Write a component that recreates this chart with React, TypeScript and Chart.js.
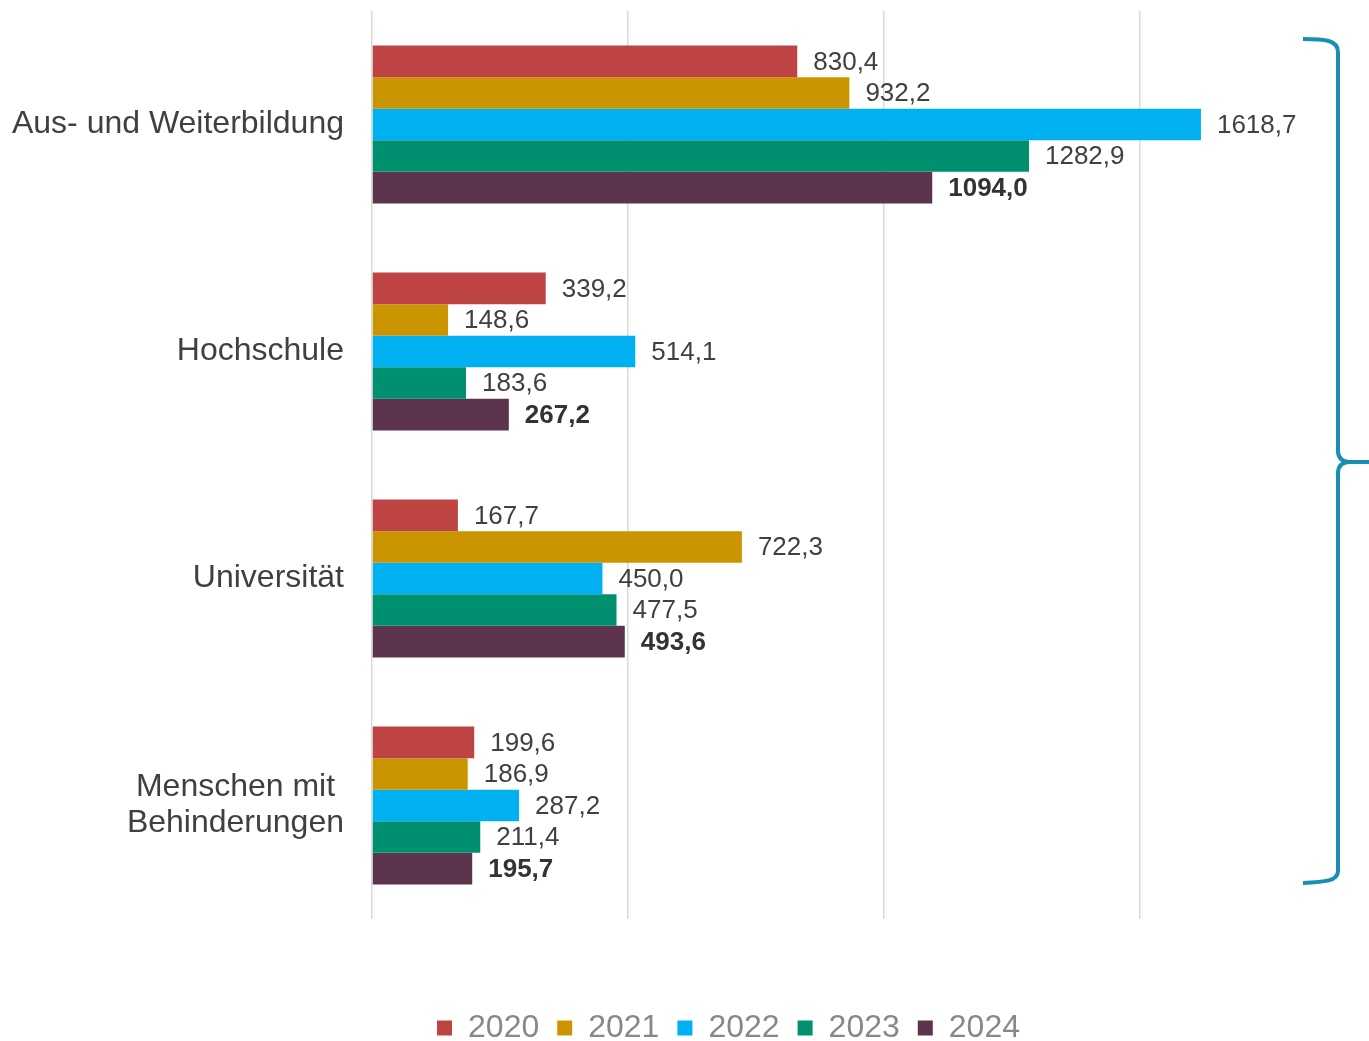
import React, { useEffect, useRef } from "react";
import { Chart, registerables } from "chart.js";

Chart.register(...registerables);

const categories: (string | string[])[] = [
  "Aus- und Weiterbildung",
  "Hochschule",
  "Universität",
  ["Menschen mit ", "Behinderungen"],
];
const seriesNames = ["2020", "2021", "2022", "2023", "2024"];
const values2020 = [830.4, 339.2, 167.7, 199.6];
const values2021 = [932.2, 148.6, 722.3, 186.9];
const values2022 = [1618.7, 514.1, 450.0, 287.2];
const values2023 = [1282.9, 183.6, 477.5, 211.4];
const values2024 = [1094.0, 267.2, 493.6, 195.7];
const seriesValues = [values2020, values2021, values2022, values2023, values2024];
const seriesColors = ["#BE4444", "#CA9500", "#00B0F0", "#008F6F", "#5C344D"];
const gridValues = [0, 500, 1000, 1500];
const boldSeriesIndex = 4;

const FONT = '"Liberation Sans", Arial, sans-serif';

const fmt = (v: number) => v.toFixed(1).replace(".", ",");

const valueLabels = {
  id: "valueLabels",
  afterDatasetsDraw(chart: any) {
    const ctx = chart.ctx;
    chart.data.datasets.forEach((ds: any, di: number) => {
      const meta = chart.getDatasetMeta(di);
      meta.data.forEach((bar: any, i: number) => {
        const v = ds.data[i] as number;
        ctx.save();
        const bold = di === boldSeriesIndex;
        ctx.font = `${bold ? "bold " : ""}26px ${FONT}`;
        ctx.fillStyle = bold ? "#333333" : "#404040";
        ctx.textAlign = "left";
        ctx.textBaseline = "middle";
        ctx.fillText(fmt(v), bar.x + 16, bar.y + 1);
        ctx.restore();
      });
    });
  },
};

// let the category labels extend left of the (narrow) axis box without clipping
const unclipY = {
  id: "unclipY",
  afterLayout(chart: any) {
    const y = chart.scales.y;
    if (y) y.left = 0;
  },
};

const bracket = {
  id: "bracket",
  afterDraw(chart: any) {
    const ctx = chart.ctx;
    const W = chart.width;
    const a = chart.chartArea;
    const x = W - 31;
    const left = W - 66;
    const top = a.top + 27;
    const bottom = a.bottom - 36;
    const mid = 462;
    ctx.save();
    ctx.strokeStyle = "#1A8DB3";
    ctx.lineWidth = 4;
    ctx.lineCap = "butt";
    ctx.beginPath();
    ctx.moveTo(left, top + 1);
    ctx.bezierCurveTo(left + 22, top + 1, x, top + 2, x, top + 14);
    ctx.lineTo(x, mid - 10);
    ctx.quadraticCurveTo(x + 1, mid, x + 12, mid);
    ctx.lineTo(W, mid);
    ctx.moveTo(x + 12, mid);
    ctx.quadraticCurveTo(x + 1, mid, x, mid + 10);
    ctx.lineTo(x, bottom - 12);
    ctx.bezierCurveTo(x, bottom - 2, left + 22, bottom - 1, left, bottom);
    ctx.stroke();
    ctx.restore();
  },
};

export default function App() {
  const ref = useRef<HTMLCanvasElement | null>(null);

  useEffect(() => {
    document.body.style.margin = "0";
    if (!ref.current) return;
    const chart = new Chart(ref.current, {
      type: "bar",
      data: {
        labels: categories as any,
        datasets: seriesNames.map((name, i) => ({
          label: name,
          data: seriesValues[i],
          backgroundColor: seriesColors[i],
          borderWidth: 0,
          categoryPercentage: 0.695,
          barPercentage: 1.0,
        })),
      },
      options: {
        indexAxis: "y",
        responsive: false,
        animation: false,
        devicePixelRatio: 1,
        layout: { padding: { top: 11, bottom: 0, left: 112, right: 24 } },
        scales: {
          x: {
            min: 0,
            max: 1900,
            ticks: { display: false },
            afterBuildTicks: (s: any) => {
              s.ticks = gridValues.map((v) => ({ value: v }));
            },
            grid: {
              drawTicks: false,
              lineWidth: 1.5,
              color: "#D9D9D9",
            },
            border: { display: false },
            afterFit: (s: any) => {
              s.height = 75;
            },
          },
          y: {
            grid: { display: false, drawTicks: false },
            border: { display: false },
            ticks: {
              padding: 28,
              color: "#404040",
              font: { family: FONT, size: 32, lineHeight: 1.13 },
            },
            afterFit: (s: any) => {
              s.width = 260;
              s.paddingTop = 0;
              s.paddingBottom = 0;
            },
          },
        },
        plugins: {
          legend: {
            position: "bottom",
            maxHeight: 47,
            labels: {
              boxWidth: 15,
              boxHeight: 15,
              padding: 18,
              color: "#888888",
              font: { family: FONT, size: 32 },
            },
          },
          tooltip: { enabled: false },
        },
      },
      plugins: [valueLabels, unclipY, bracket],
    });
    return () => chart.destroy();
  }, []);

  return (
    <div style={{ width: 1369, height: 1041 }}>
      <canvas ref={ref} width={1369} height={1041} />
    </div>
  );
}
